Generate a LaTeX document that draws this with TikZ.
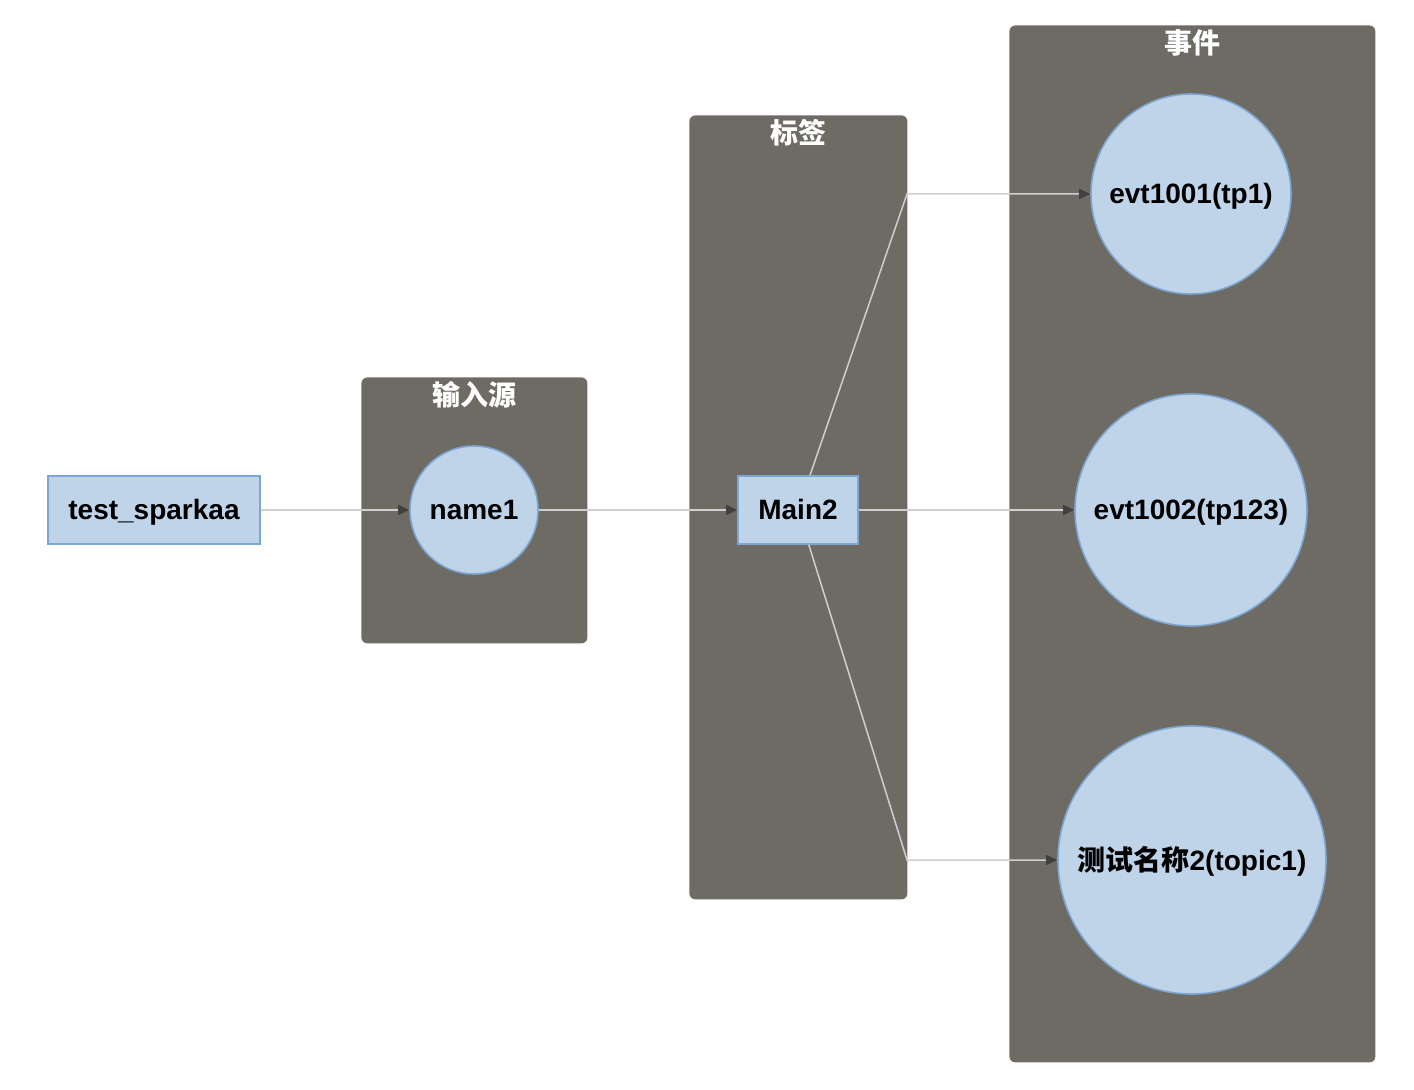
\documentclass[tikz,border=0pt]{standalone}
\usepackage{fontspec}
\setmainfont{Liberation Sans}
\newfontfamily\cjk{Noto Sans CJK SC}
\usetikzlibrary{arrows.meta}
\definecolor{grpgray}{HTML}{6D6B63}
\definecolor{nodeblue}{HTML}{BFD4E8}
\definecolor{nodeedge}{HTML}{7EA6D3}
\definecolor{linegray}{HTML}{CFCFCF}

\begin{document}
\begin{tikzpicture}[x=0.5pt, y=-0.5pt,
  group/.style={fill=grpgray, rounded corners=3pt, anchor=north west, inner sep=0pt},
  title/.style={text=white, font=\cjk\bfseries\fontsize{14}{16}\selectfont, anchor=north, inner sep=2pt},
  box/.style={rectangle, draw=nodeedge, fill=nodeblue, line width=0.8pt,
    font=\bfseries\fontsize{14}{16}\selectfont, inner sep=0pt, minimum height=34pt,
    text height=10pt, text depth=0pt},
  ball/.style={circle, draw=nodeedge, fill=nodeblue, line width=0.8pt,
    font=\bfseries\fontsize{14}{16}\selectfont, inner sep=0pt,
    text height=10pt, text depth=0pt},
  flow/.style={draw=linegray, line width=0.75pt, -{Triangle[length=5.5pt,width=5pt,color=black!75]}}]
  \useasboundingbox (0,0) rectangle (1414,1090);

  % groups
  \node[group, minimum width=113pt, minimum height=133pt] (gin) at (361,377) {};
  \node[group, minimum width=109pt, minimum height=392pt] (gtag) at (689,115) {};
  \node[group, minimum width=183pt, minimum height=518.5pt] (gevt) at (1009,25) {};
  \node[title] (tin) at (gin.north) {输入源};
  \node[title] (ttag) at (gtag.north) {标签};
  \node[title] (tevt) at (gevt.north) {事件};

  % nodes
  \node[box, minimum width=106pt] (src) at (154,510) {test\_sparkaa};
  \node[ball, minimum size=64pt] (n1) at (474,510) {name1};
  \node[box, minimum width=60pt] (m2) at (798,510) {Main2};
  \node[ball, minimum size=100pt] (e1) at (1191,194) {evt1001(tp1)};
  \node[ball, minimum size=116pt] (e2) at (1191,510) {evt1002(tp123)};
  \node[ball, minimum size=134pt] (e3) at (1192,860) {{\cjk 测试名称}2(topic1)};

  % edges
  \coordinate (up) at (907,194);
  \coordinate (down) at (907,860);
  \draw[flow] (src) -- (n1);
  \draw[flow] (n1) -- (m2);
  \draw[flow] (m2) -- (up) -- (e1);
  \draw[flow] (m2) -- (e2);
  \draw[flow] (m2) -- (down) -- (e3);
\end{tikzpicture}
\end{document}
